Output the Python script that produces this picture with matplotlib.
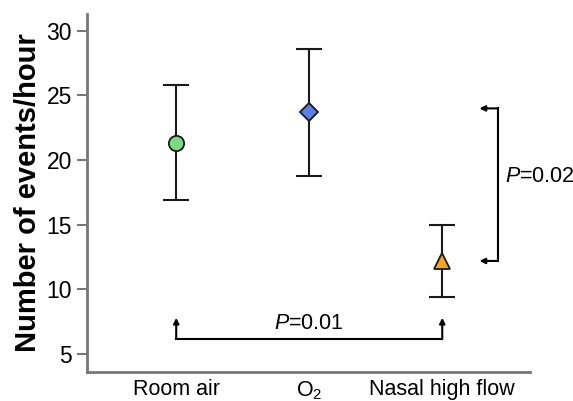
import numpy as np
import matplotlib.pyplot as plt

plt.rcParams['font.family'] = ['Liberation Sans', 'DejaVu Sans']
plt.rcParams['mathtext.fontset'] = 'custom'
plt.rcParams['mathtext.it'] = 'Liberation Sans:italic'
plt.rcParams['mathtext.rm'] = 'Liberation Sans'

groups = ["Room air", "O$_2$", "Nasal high flow"]
means = [21.3, 23.7, 12.2]
upper = [25.8, 28.6, 15.0]
lower = [16.9, 18.8, 9.4]
colors = ["#7dd97f", "#5b7fe3", "#f5a424"]
markers = ["o", "D", "^"]
p_values = ["0.01", "0.02"]

fig = plt.figure(figsize=(5.73, 4.01), dpi=100)
ax = fig.add_axes([0.152, 0.072, 0.773, 0.893])

x = np.arange(1, len(groups) + 1)
for i in range(len(groups)):
    yerr = [[means[i] - lower[i]], [upper[i] - means[i]]]
    ax.errorbar(x[i], means[i], yerr=yerr, fmt='none', ecolor='#1a1a1a',
                elinewidth=1.5, capsize=9.5, capthick=1.5, zorder=2)
    ax.plot(x[i], means[i], marker=markers[i], markersize=11 if i != 1 else 9,
            markerfacecolor=colors[i], markeredgecolor='#1a1a1a',
            markeredgewidth=1.3, linestyle='none', zorder=3)

arrow = dict(arrowstyle='-|>', lw=1.5, color='black', mutation_scale=8,
             shrinkA=0, shrinkB=0)

# Room air vs nasal high flow
yb = 6.18
ax.plot([x[0], x[2]], [yb, yb], color='black', lw=1.5)
for xi in (x[0], x[2]):
    ax.annotate('', xy=(xi, 7.8), xytext=(xi, yb), arrowprops=arrow)
ax.text(2.0, 6.55, "$P$=" + p_values[0], ha='center', va='bottom',
        fontsize=15.5)

# O2 vs nasal high flow
xb = 3.42
ax.plot([xb, xb], [12.2, 24.0], color='black', lw=1.5)
for yi in (12.2, 24.0):
    ax.annotate('', xy=(3.28, yi), xytext=(xb, yi), arrowprops=arrow)
ax.text(xb + 0.05, 18.7, "$P$=" + p_values[1], ha='left', va='center',
        fontsize=15.5)

ax.set_xlim(0.33, 3.66)
ax.set_ylim(3.6, 31.3)
ax.set_yticks([5, 10, 15, 20, 25, 30])
ax.set_xticks(x)
ax.set_xticklabels(groups, fontsize=15.5)
ax.tick_params(axis='y', labelsize=16.5, color='#777777', width=1.5, length=7,
               pad=4)
ax.tick_params(axis='x', length=0, pad=5)
ax.set_ylabel("Number of events/hour", fontsize=21, fontweight='bold',
              labelpad=3)

for side in ('top', 'right'):
    ax.spines[side].set_visible(False)
for side in ('left', 'bottom'):
    ax.spines[side].set_color('#777777')
    ax.spines[side].set_linewidth(2)

fig.savefig("out.png", dpi=100)
